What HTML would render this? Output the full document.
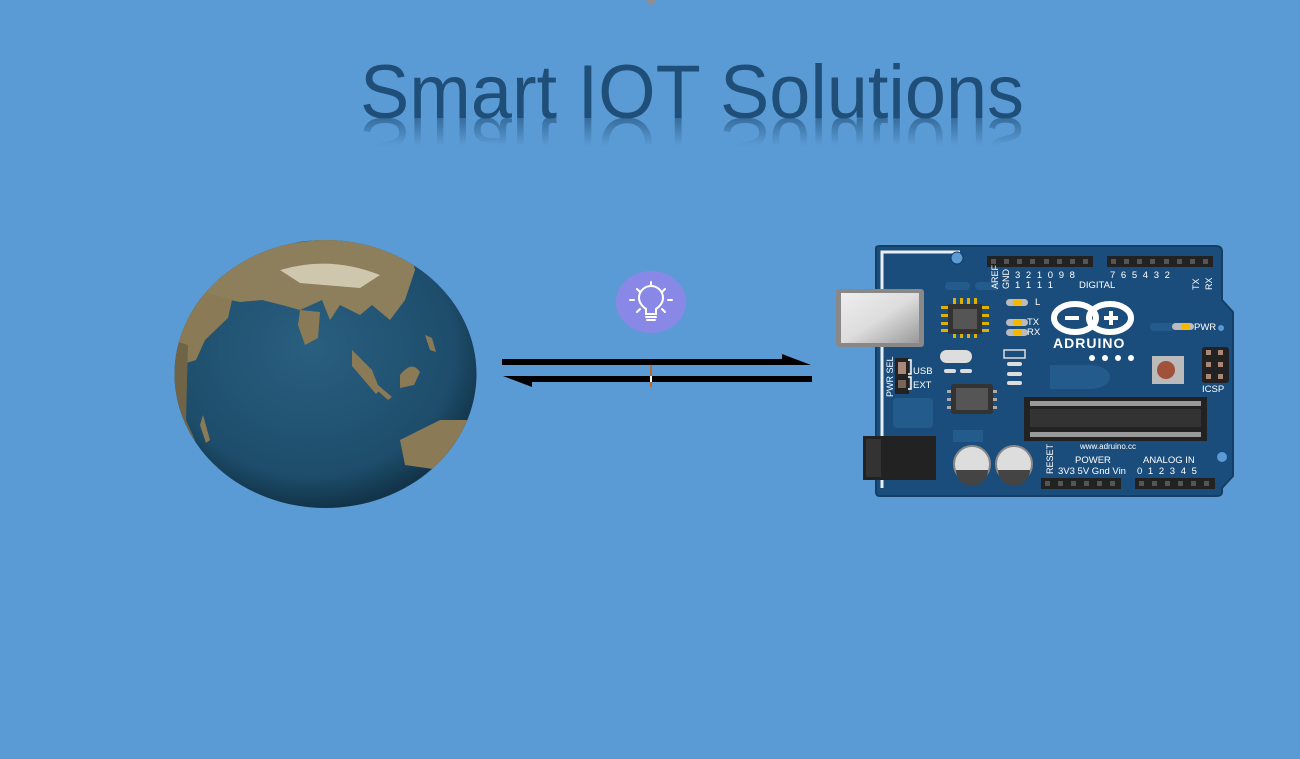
<!DOCTYPE html>
<html><head><meta charset="utf-8"><style>
html,body{margin:0;padding:0;background:#5b9bd5;}
body{width:1300px;height:759px;overflow:hidden;position:relative;font-family:"Liberation Sans",sans-serif;}
</style></head><body>
<svg width="1300" height="759" viewBox="0 0 1300 759" xmlns="http://www.w3.org/2000/svg" style="position:absolute;left:0;top:0">
<defs>
<linearGradient id="refl" gradientUnits="userSpaceOnUse" x1="0" y1="118" x2="0" y2="90">
<stop offset="0" stop-color="#1f4e79" stop-opacity="0.6"/>
<stop offset="1" stop-color="#1f4e79" stop-opacity="0"/>
</linearGradient>
<radialGradient id="glb" cx="0.45" cy="0.4" r="0.6">
<stop offset="0" stop-color="#2a5f80"/>
<stop offset="0.8" stop-color="#1d4d6b"/>
<stop offset="1" stop-color="#123449"/>
</radialGradient>
<linearGradient id="usb" x1="0" y1="0" x2="1" y2="1">
<stop offset="0" stop-color="#eee"/><stop offset="0.5" stop-color="#ddd"/><stop offset="1" stop-color="#999"/>
</linearGradient>
<clipPath id="gc"><ellipse cx="325.5" cy="374" rx="151" ry="134"/></clipPath>
</defs>
<circle cx="651" cy="0" r="5" fill="#8a8f9c"/>
<text x="692" y="118" text-anchor="middle" font-family="Liberation Sans, sans-serif" font-size="76" fill="#1f4e79" textLength="664" lengthAdjust="spacingAndGlyphs">Smart IOT Solutions</text>
<g transform="translate(0,236) scale(1,-1)">
<text x="692" y="118" text-anchor="middle" font-family="Liberation Sans, sans-serif" font-size="76" fill="url(#refl)" textLength="664" lengthAdjust="spacingAndGlyphs">Smart IOT Solutions</text>
</g>
<!-- Globe -->
<ellipse cx="325.5" cy="374" rx="151" ry="134" fill="url(#glb)"/>
<g clip-path="url(#gc)" fill="#8a7a55">
<path d="M200 270 L260 248 L330 238 L410 250 L415 270 L405 300 L390 320 L372 305 L360 315 L340 305 L330 320 L322 300 L300 310 L282 305 L262 300 L240 302 L220 298 L205 310 Z" fill="#8e7f5c"/>
<path d="M280 270 Q330 255 380 275 L360 288 L300 283 Z" fill="#cfc6ae"/>
<path d="M198 290 L232 300 L228 318 L205 340 L196 360 L180 365 L178 330 Z"/>
<path d="M172 340 L188 345 L186 420 L195 440 L180 440 L170 400 Z" fill="#6f6446"/>
<path d="M300 310 L320 312 L318 338 L305 345 L298 325 Z"/>
<path d="M352 350 L372 370 L380 390 L376 394 L352 366 Z"/>
<path d="M358 360 L378 385 L392 397 L388 400 L360 375 Z"/>
<path d="M400 375 Q412 360 420 372 L414 385 L400 388 Z"/>
<path d="M425 335 L430 350 L436 352 L432 338 Z"/>
<path d="M400 440 L440 420 L475 420 L475 465 L440 470 L405 465 Z"/>
<path d="M203 415 L210 440 L206 443 L200 425 Z"/>
</g>
<!-- bulb -->
<ellipse cx="651" cy="302" rx="35" ry="31" fill="#8a88e6"/>
<g stroke="#fff" stroke-width="2" fill="none" stroke-linecap="round">
<path d="M646 314 L646 309 Q639 304 639 298 A12 12 0 0 1 663 298 Q663 304 656 309 L656 314 Z"/>
<path d="M646 317 H656 M647 320 H655"/>
<path d="M651 282 V286 M637 289 L640 292 M665 289 L662 292 M630 300 H634 M668 300 H672 M637 312 L640 309 M665 312 L662 309"/>
</g>
<!-- arrows -->
<path d="M502 359 H782 L782 354 L811 365 L502 365 Z" fill="#000"/>
<path d="M812 376 H503 L532 387 L532 382 H812 Z" fill="#000"/>
<rect x="650" y="365" width="2" height="22" fill="#b8692e"/>
<rect x="650" y="376" width="2" height="6" fill="#fff"/>
<!-- Arduino -->
<path d="M876 248 Q876 246 880 246 L1216 246 Q1222 246 1222 252 L1222 300 L1233 312 L1233 476 L1222 488 L1222 492 Q1222 496 1216 496 L880 496 Q876 496 876 492 Z" fill="#1a4d7c" stroke="#153e63" stroke-width="2"/>
<path d="M882 488 L882 252 L960 252" stroke="#e8eef4" stroke-width="3" fill="none"/>
<circle cx="957" cy="258" r="6" fill="#5b9bd5" stroke="#123a60"/>
<circle cx="1222" cy="457" r="5" fill="#5b9bd5"/>
<circle cx="1221" cy="328" r="3" fill="#5b9bd5"/>
<g fill="#235b8c">
<rect x="945" y="282" width="25" height="8" rx="4"/><rect x="975" y="282" width="25" height="8" rx="4"/>
<rect x="1150" y="323" width="25" height="8" rx="4"/>
<path d="M1050 365 h40 a20 12 0 0 1 0 24 h-40 z"/>
<rect x="893" y="398" width="40" height="30" rx="4"/>
<rect x="953" y="430" width="30" height="12"/>
</g>
<rect x="987" y="256" width="106" height="11" fill="#222"/>
<rect x="1107" y="256" width="106" height="11" fill="#222"/>
<rect x="1041" y="478" width="80" height="11" fill="#222"/>
<rect x="1135" y="478" width="80" height="11" fill="#222"/>
<g fill="#555">
<rect x="991" y="259" width="5" height="5"/><rect x="1004" y="259" width="5" height="5"/><rect x="1017" y="259" width="5" height="5"/><rect x="1030" y="259" width="5" height="5"/><rect x="1044" y="259" width="5" height="5"/><rect x="1057" y="259" width="5" height="5"/><rect x="1070" y="259" width="5" height="5"/><rect x="1083" y="259" width="5" height="5"/>
<rect x="1111" y="259" width="5" height="5"/><rect x="1124" y="259" width="5" height="5"/><rect x="1137" y="259" width="5" height="5"/><rect x="1150" y="259" width="5" height="5"/><rect x="1164" y="259" width="5" height="5"/><rect x="1177" y="259" width="5" height="5"/><rect x="1190" y="259" width="5" height="5"/><rect x="1203" y="259" width="5" height="5"/>
<rect x="1045" y="481" width="5" height="5"/><rect x="1058" y="481" width="5" height="5"/><rect x="1071" y="481" width="5" height="5"/><rect x="1084" y="481" width="5" height="5"/><rect x="1097" y="481" width="5" height="5"/><rect x="1110" y="481" width="5" height="5"/>
<rect x="1139" y="481" width="5" height="5"/><rect x="1152" y="481" width="5" height="5"/><rect x="1165" y="481" width="5" height="5"/><rect x="1178" y="481" width="5" height="5"/><rect x="1191" y="481" width="5" height="5"/><rect x="1204" y="481" width="5" height="5"/>
</g>
<!-- USB -->
<rect x="836" y="289" width="88" height="58" rx="3" fill="#888"/>
<rect x="841" y="293" width="78" height="50" fill="url(#usb)"/>
<!-- power jack -->
<rect x="863" y="436" width="73" height="44" fill="#222"/>
<rect x="866" y="439" width="15" height="38" fill="#333"/>
<!-- capacitors -->
<circle cx="972" cy="464" r="18" fill="#ddd" stroke="#888" stroke-width="2"/>
<path d="M956 470 A16 16 0 0 0 988 470 Z" fill="#444"/>
<circle cx="1014" cy="464" r="18" fill="#ddd" stroke="#888" stroke-width="2"/>
<path d="M998 470 A16 16 0 0 0 1030 470 Z" fill="#444"/>
<!-- chips -->
<g fill="#e0b000"><rect x="941" y="306" width="48" height="3"/><rect x="941" y="314" width="48" height="3"/><rect x="941" y="322" width="48" height="3"/><rect x="941" y="329" width="48" height="3"/><rect x="953" y="298" width="3" height="40"/><rect x="960" y="298" width="3" height="40"/><rect x="967" y="298" width="3" height="40"/><rect x="974" y="298" width="3" height="40"/></g>
<rect x="948" y="304" width="34" height="30" fill="#333"/><rect x="953" y="309" width="24" height="20" fill="#555"/>
<g fill="#aaa"><rect x="947" y="390" width="50" height="3"/><rect x="947" y="398" width="50" height="3"/><rect x="947" y="406" width="50" height="3"/></g>
<rect x="951" y="384" width="42" height="30" rx="3" fill="#333"/><rect x="956" y="388" width="32" height="22" fill="#555"/>
<!-- crystal -->
<rect x="940" y="350" width="32" height="13" rx="6.5" fill="#ddd"/>
<g fill="#ddd"><rect x="944" y="369" width="12" height="4" rx="2"/><rect x="960" y="369" width="12" height="4" rx="2"/>
<rect x="1007" y="362" width="15" height="4" rx="2"/><rect x="1007" y="372" width="15" height="4" rx="2"/><rect x="1007" y="381" width="15" height="4" rx="2"/></g>
<rect x="1004" y="350" width="21" height="8" fill="none" stroke="#ddd" stroke-width="1.5"/>
<!-- LEDs -->
<g fill="#bbb"><rect x="1006" y="299" width="22" height="7" rx="3.5"/><rect x="1006" y="319" width="22" height="7" rx="3.5"/><rect x="1006" y="329" width="22" height="7" rx="3.5"/><rect x="1172" y="323" width="22" height="7" rx="3.5"/></g>
<g fill="#f5b800"><rect x="1013" y="300" width="9" height="5"/><rect x="1013" y="320" width="9" height="5"/><rect x="1013" y="330" width="9" height="5"/><rect x="1181" y="324" width="9" height="5"/></g>
<!-- jumper -->
<rect x="895" y="358" width="14" height="36" fill="#222"/>
<rect x="898" y="362" width="8" height="12" fill="#a87" />
<rect x="898" y="380" width="8" height="8" fill="#765"/>
<path d="M908 360 h3 v14 h-3 M908 377 h3 v12 h-3" stroke="#fff" fill="none" stroke-width="1.5"/>
<!-- logo -->
<g fill="none" stroke="#fff" stroke-width="6">
<ellipse cx="1075" cy="318" rx="21" ry="14"/><ellipse cx="1110" cy="318" rx="21" ry="14"/>
</g>
<rect x="1065" y="316" width="14" height="4" fill="#fff"/>
<rect x="1104" y="316" width="14" height="4" fill="#fff"/><rect x="1109" y="311" width="4" height="14" fill="#fff"/>
<g fill="#fff"><circle cx="1092" cy="358" r="3"/><circle cx="1105" cy="358" r="3"/><circle cx="1118" cy="358" r="3"/><circle cx="1131" cy="358" r="3"/></g>
<!-- reset -->
<rect x="1152" y="356" width="32" height="28" fill="#bbb"/>
<circle cx="1166" cy="370" r="9" fill="#a0523a"/>
<!-- ICSP -->
<rect x="1202" y="347" width="27" height="36" rx="3" fill="#222"/>
<g fill="#a87"><rect x="1206" y="350" width="5" height="5"/><rect x="1218" y="350" width="5" height="5"/><rect x="1206" y="362" width="5" height="5"/><rect x="1218" y="362" width="5" height="5"/><rect x="1206" y="374" width="5" height="5"/><rect x="1218" y="374" width="5" height="5"/></g>
<!-- big chip -->
<rect x="1024" y="397" width="183" height="44" fill="#222"/>
<rect x="1030" y="409" width="171" height="18" fill="#333"/>
<g fill="#999">
<rect x="1030" y="401" width="171" height="5"/><rect x="1030" y="432" width="171" height="5"/>
</g>
<!-- text -->
<g fill="#fff" font-family="Liberation Sans, sans-serif" font-size="9.5">
<text x="1015" y="278" letter-spacing="1.5">3 2 1 0 9 8</text>
<text x="1015" y="288" letter-spacing="1.5">1 1 1 1</text>
<text x="1079" y="288">DIGITAL</text>
<text x="1110" y="278" letter-spacing="1.5">7 6 5 4 3 2</text>
<text x="1035" y="305">L</text><text x="1027" y="325">TX</text><text x="1027" y="335">RX</text>
<text x="1194" y="330">PWR</text>
<text x="913" y="374">USB</text><text x="913" y="388">EXT</text>
<text x="1202" y="392">ICSP</text>
<text x="1080" y="449" font-size="8">www.adruino.cc</text>
<text x="1075" y="463">POWER</text>
<text x="1058" y="474">3V3 5V Gnd Vin</text>
<text x="1143" y="463">ANALOG IN</text>
<text x="1137" y="474" letter-spacing="1.5">0 1 2 3 4 5</text>
<text x="1053" y="348" font-size="14" font-weight="bold" letter-spacing="1">ADRUINO</text>
<text transform="translate(998,289) rotate(-90)" font-size="9">AREF</text>
<text transform="translate(1009,289) rotate(-90)" font-size="9">GND</text>
<text transform="translate(1199,290) rotate(-90)" font-size="9">TX</text>
<text transform="translate(1212,290) rotate(-90)" font-size="9">RX</text>
<text transform="translate(893,397) rotate(-90)" font-size="9">PWR SEL</text>
<text transform="translate(1053,474) rotate(-90)" font-size="9">RESET</text>
</g>
</svg>
</body></html>
